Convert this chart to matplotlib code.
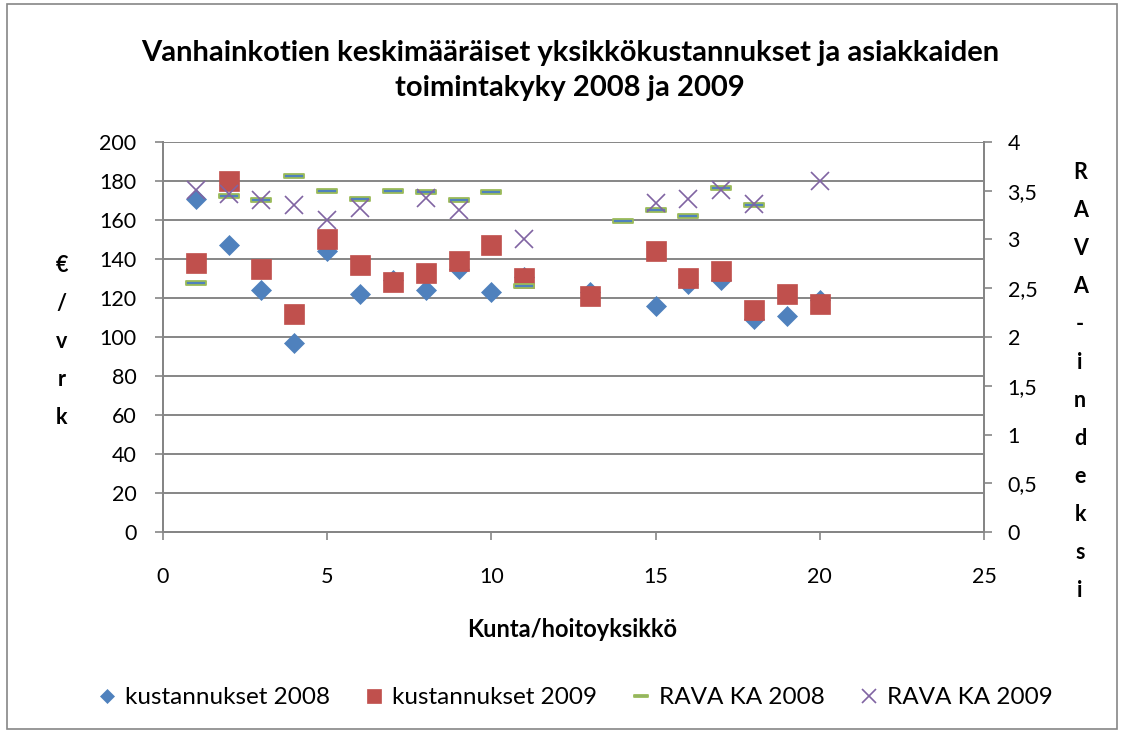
import matplotlib.pyplot as plt
from matplotlib.path import Path
from matplotlib.patches import Rectangle
from matplotlib.ticker import FuncFormatter, MultipleLocator

plt.rcParams['font.family'] = ['Lato', 'DejaVu Sans']

# data
x_cost08 = [1, 2, 3, 4, 5, 6, 7, 8, 9, 10, 11, 13, 15, 16, 17, 18, 19, 20]
cost08 = [171, 147, 124, 97, 144, 122, 129, 124, 135, 123, 131, 123, 116, 127, 129, 109, 111, 119]
x_cost09 = [1, 2, 3, 4, 5, 6, 7, 8, 9, 10, 11, 13, 15, 16, 17, 18, 19, 20]
cost09 = [138, 180, 135, 112, 150, 137, 128, 133, 139, 147, 130, 121, 144, 130, 134, 114, 122, 117]
x_rava08 = [1, 2, 3, 4, 5, 6, 7, 8, 9, 10, 11, 14, 15, 16, 17, 18]
rava08 = [2.55, 3.45, 3.41, 3.65, 3.5, 3.42, 3.5, 3.49, 3.4, 3.49, 2.52, 3.19, 3.3, 3.24, 3.53, 3.35]
x_rava09 = [1, 2, 3, 4, 5, 6, 8, 9, 11, 15, 16, 17, 18, 20]
rava09 = [3.51, 3.47, 3.4, 3.35, 3.2, 3.32, 3.43, 3.3, 3.0, 3.37, 3.42, 3.51, 3.36, 3.6]

title = 'Vanhainkotien keskimääräiset yksikkökustannukset ja asiakkaiden\ntoimintakyky 2008 ja 2009'
xlabel = 'Kunta/hoitoyksikkö'
ylabel_left = '€/vrk'
ylabel_right = 'RAVA-indeksi'

blue = '#4F81BD'
red = '#C0504D'
green = '#9BBB59'
purple = '#8064A2'
grey = '#868686'

# flat bar marker for the RAVA 2008 series
dash = Path([(-1, -0.2), (1, -0.2), (1, 0.2), (-1, 0.2), (-1, -0.2)],
            [Path.MOVETO, Path.LINETO, Path.LINETO, Path.LINETO, Path.CLOSEPOLY])

fig = plt.figure(figsize=(11.24, 7.33), dpi=100)
ax = fig.add_axes([0.145, 0.2742, 0.7304, 0.5321])
ax2 = ax.twinx()

ax.plot(x_cost08, cost08, linestyle='none', marker='D', ms=9.8, color=blue,
        mec=blue, mew=0.5, label='kustannukset 2008')
ax.plot(x_cost09, cost09, linestyle='none', marker='s', ms=14, color=red,
        mec=red, mew=0.5, label='kustannukset 2009')
ax2.plot(x_rava08, rava08, linestyle='none', marker=dash, ms=14, color=blue,
         mec=green, mew=1.3, label='RAVA KA 2008')
ax2.plot(x_rava09, rava09, linestyle='none', marker='x', ms=13.5, color=purple,
         mew=1.2, label='RAVA KA 2009')

ax.set_xlim(0, 25)
ax.set_ylim(0, 200)
ax2.set_ylim(0, 4)
ax.xaxis.set_major_locator(MultipleLocator(5))
ax.yaxis.set_major_locator(MultipleLocator(20))
ax2.yaxis.set_major_locator(MultipleLocator(0.5))
ax2.yaxis.set_major_formatter(FuncFormatter(lambda v, p: ('%g' % v).replace('.', ',')))

ax.grid(axis='y', color=grey, linewidth=1.4)
ax.set_axisbelow(True)
for a in (ax, ax2):
    a.spines['top'].set_visible(False)
    for s in ('left', 'right', 'bottom'):
        a.spines[s].set_color(grey)
        a.spines[s].set_linewidth(1.4)
ax.tick_params(axis='both', colors=grey, labelcolor='black', labelsize=15.5,
               length=6, width=1.2)
ax.tick_params(axis='y', pad=13)
ax.tick_params(axis='x', pad=19)
ax2.tick_params(axis='y', colors=grey, labelcolor='black', labelsize=15.5,
                length=6, width=1.2, pad=11)

fig.text(0.507, 0.904, title, ha='center', va='center', fontsize=21,
         fontweight='bold', linespacing=1.42)
fig.text(0.509, 0.141, xlabel, ha='center', va='center', fontsize=17,
         fontweight='bold')
fig.text(0.055, 0.534, '\n'.join(ylabel_left), ha='center', va='center',
         fontsize=15.5, fontweight='bold', linespacing=2.0)
fig.text(0.961, 0.480, '\n'.join(ylabel_right), ha='center', va='center',
         fontsize=15.5, fontweight='bold', linespacing=2.0)

handles = ax.get_lines() + ax2.get_lines()
fig.legend(handles, [h.get_label() for h in handles], loc='center',
           bbox_to_anchor=(0.512, 0.048), ncol=4, frameon=False, fontsize=17.5,
           handlelength=0.7, handletextpad=0.4, columnspacing=1.45,
           markerscale=0.75)

fig.patches.append(Rectangle((0.006, 0.006), 0.988, 0.988, transform=fig.transFigure,
                             fill=False, edgecolor=grey, linewidth=1.2))

fig.savefig('out.png', dpi=100)
